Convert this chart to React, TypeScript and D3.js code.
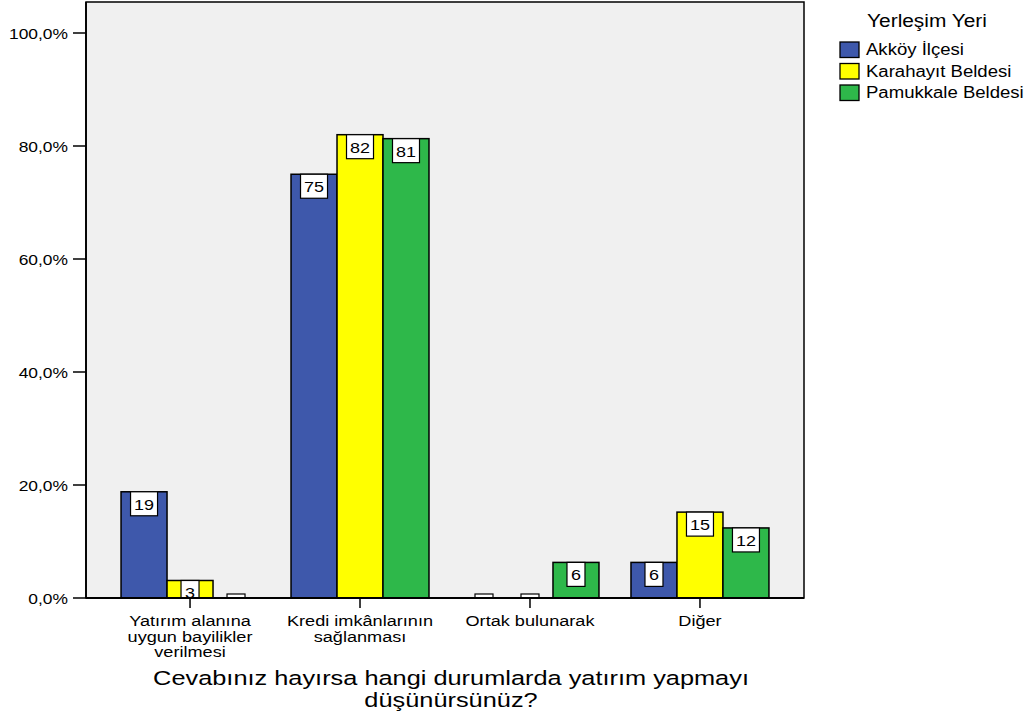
import React from "react";
import * as d3 from "d3";

const categories = [
  ["Yatırım alanına", "uygun bayilikler", "verilmesi"],
  ["Kredi imkânlarının", "sağlanması"],
  ["Ortak bulunarak"],
  ["Diğer"],
];
const categoryKeys = ["c1", "c2", "c3", "c4"];
const seriesNames = ["Akköy İlçesi", "Karahayıt Beldesi", "Pamukkale Beldesi"];
const seriesColors = ["#3e58ab", "#ffff00", "#2eb84a"];
const akkoy = [18.8, 75.0, 0, 6.3];
const karahayit = [3.1, 82.0, 0, 15.2];
const pamukkale = [0, 81.3, 6.3, 12.4];
const yTicks = [0, 20, 40, 60, 80, 100];
const yTickLabels = ["0,0%", "20,0%", "40,0%", "60,0%", "80,0%", "100,0%"];
const legendTitle = "Yerleşim Yeri";
const axisTitle = ["Cevabınız hayırsa hangi durumlarda yatırım yapmayı", "düşünürsünüz?"];

const FONT = "'Liberation Sans', Arial, sans-serif";
const SX = 1.16;

function T({ x, y, size, anchor = "start", children, fill = "#000", sx = SX }: any) {
  return (
    <text
      transform={`translate(${x},${y}) scale(${sx},1)`}
      fontFamily={FONT}
      fontSize={size}
      textAnchor={anchor}
      fill={fill}
    >
      {children}
    </text>
  );
}

export default function App() {
  const W = 1030, H = 719;
  const left = 86, right = 804, top = 2, bottom = 598;
  const series = [akkoy, karahayit, pamukkale];

  const y = d3.scaleLinear().domain([0, 100]).range([598, 33]);
  const x0 = d3.scaleBand().domain(categoryKeys).range([left, right]).paddingInner(0).paddingOuter(0.112);
  const x1 = d3.scaleBand().domain(["0", "1", "2"]).range([0, x0.bandwidth()]).paddingInner(0).paddingOuter(0.348);

  return (
    <svg width={W} height={H} style={{ position: "absolute", left: 0, top: 0 }}>
      <defs>
        <clipPath id="plotclip">
          <rect x={left} y={top} width={right - left} height={bottom - top} />
        </clipPath>
      </defs>
      <rect x={0} y={0} width={W} height={H} fill="#fff" />
      <rect x={left} y={top} width={right - left} height={bottom - top} fill="#f0f0f0" stroke="#000" strokeWidth={1.5} />

      <g clipPath="url(#plotclip)">
        {categoryKeys.map((c, ci) =>
          series.map((s, si) => {
            const v = s[ci];
            const bx = (x0(c) as number) + (x1(String(si)) as number);
            const bw = x1.bandwidth();
            const by = y(v);
            return v > 0 ? (
              <rect key={`b${ci}${si}`} x={bx} y={by} width={bw} height={y(0) - by}
                fill={seriesColors[si]} stroke="#000" strokeWidth={1.5} />
            ) : null;
          })
        )}
        {categoryKeys.map((c, ci) =>
          series.map((s, si) => {
            const v = s[ci];
            const label = String(Math.round(v));
            const bx = (x0(c) as number) + (x1(String(si)) as number);
            const cx = bx + x1.bandwidth() / 2;
            const boxW = label.length > 1 ? 27 : 18;
            const boxTop = Math.min(y(v), y(0) - 4);
            return (
              <g key={`l${ci}${si}`}>
                <rect x={cx - boxW / 2} y={boxTop} width={boxW} height={24} fill="#fff" stroke="#000" strokeWidth={1.2} />
                {v > 0 ? <T x={cx} y={boxTop + 18} size={15.5} anchor="middle">{label}</T> : null}
              </g>
            );
          })
        )}
      </g>

      <line x1={left} x2={left} y1={top} y2={bottom} stroke="#000" strokeWidth={1.8} />
      <line x1={left} x2={right} y1={bottom} y2={bottom} stroke="#000" strokeWidth={1.8} />

      {yTicks.map((t, i) => (
        <g key={`yt${i}`}>
          <line x1={73} x2={left} y1={y(t)} y2={y(t)} stroke="#000" strokeWidth={1.5} />
          <T x={68} y={y(t) + 5.5} size={15} anchor="end">{yTickLabels[i]}</T>
        </g>
      ))}

      {categoryKeys.map((c, ci) => {
        const cx = (x0(c) as number) + x0.bandwidth() / 2;
        return (
          <g key={`xt${ci}`}>
            <line x1={cx} x2={cx} y1={bottom} y2={bottom + 10} stroke="#000" strokeWidth={1.5} />
            {categories[ci].map((ln, li) => (
              <T key={li} x={cx} y={626 + li * 15.5} size={15} sx={1.21} anchor="middle">{ln}</T>
            ))}
          </g>
        );
      })}

      {axisTitle.map((ln, i) => (
        <T key={`at${i}`} x={451} y={685 + i * 21.5} size={19.5} sx={1.3} anchor="middle">{ln}</T>
      ))}

      <T x={927} y={27} size={18} anchor="middle">{legendTitle}</T>
      {seriesNames.map((n, i) => (
        <g key={`lg${i}`}>
          <rect x={840} y={42 + i * 21.5} width={19} height={15.5} fill={seriesColors[i]} stroke="#000" strokeWidth={1.3} />
          <T x={866} y={55 + i * 21.5} size={16}>{n}</T>
        </g>
      ))}
    </svg>
  );
}
